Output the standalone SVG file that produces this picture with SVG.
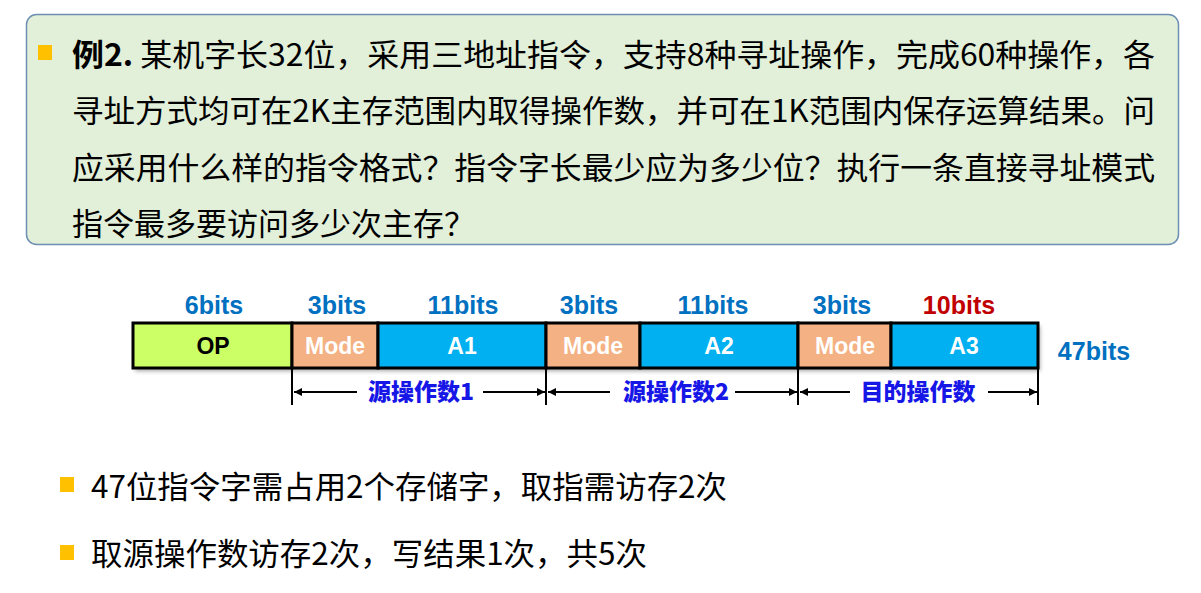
<svg xmlns="http://www.w3.org/2000/svg" width="1201" height="593" viewBox="0 0 1201 593">
<defs>
<style>
.cn{font-family:"Noto Sans CJK SC","Microsoft YaHei",sans-serif;font-size:31px;fill:#000}
.bits{font-family:"Liberation Sans",Arial,sans-serif;font-weight:bold;font-size:25px;fill:#0070C0;text-anchor:middle}
.fld{font-family:"Liberation Sans",Arial,sans-serif;font-weight:bold;font-size:23px;fill:#fff;text-anchor:middle}
.lab{font-family:"Noto Sans CJK SC",sans-serif;font-weight:900;font-size:23px;fill:#1616E6;text-anchor:middle}
.cell{stroke:#000;stroke-width:3}
.ln{stroke:#000;stroke-width:2;fill:none}
.bul{fill:#FFC000}
</style>
<marker id="ah" viewBox="0 0 10 10" refX="10" refY="5" markerWidth="10" markerHeight="8" orient="auto-start-reverse" markerUnits="userSpaceOnUse">
<path d="M0,0 L10,5 L0,10 z" fill="#000"/>
</marker>
<filter id="sh" x="-5%" y="-20%" width="110%" height="150%">
<feDropShadow dx="2" dy="3" stdDeviation="2" flood-color="#000" flood-opacity="0.35"/>
</filter>
</defs>

<g id="question">
<rect x="26.5" y="14.5" width="1152" height="230" rx="10" fill="#E2EFD9" stroke="#6E8FB3" stroke-width="1.5"/>
<rect class="bul" x="38" y="45" width="14" height="15"/>
<text class="cn" x="72" y="66" textLength="1083" lengthAdjust="spacingAndGlyphs"><tspan font-weight="bold">例2.</tspan> 某机字长32位，采用三地址指令，支持8种寻址操作，完成60种操作，各</text>
<text class="cn" x="72" y="122" textLength="1083" lengthAdjust="spacingAndGlyphs">寻址方式均可在2K主存范围内取得操作数，并可在1K范围内保存运算结果。问</text>
<text class="cn" x="72" y="179" textLength="1083" lengthAdjust="spacingAndGlyphs">应采用什么样的指令格式？指令字长最少应为多少位？执行一条直接寻址模式</text>
<text class="cn" x="72" y="235">指令最多要访问多少次主存？</text>
</g>

<g id="format">
<rect x="133" y="323" width="905" height="45" fill="#fff" filter="url(#sh)"/>
<g id="op"><rect class="cell" x="133" y="323" width="159" height="45" fill="#CCFF66"/><text class="fld" x="213" y="354" style="fill:#000">OP</text></g>
<g id="mode1"><rect class="cell" x="292" y="323" width="86" height="45" fill="#F4B183"/><text class="fld" x="335" y="354">Mode</text></g>
<g id="a1"><rect class="cell" x="378" y="323" width="168" height="45" fill="#00B0F0"/><text class="fld" x="462" y="354">A1</text></g>
<g id="mode2"><rect class="cell" x="546" y="323" width="94" height="45" fill="#F4B183"/><text class="fld" x="593" y="354">Mode</text></g>
<g id="a2"><rect class="cell" x="640" y="323" width="158" height="45" fill="#00B0F0"/><text class="fld" x="719" y="354">A2</text></g>
<g id="mode3"><rect class="cell" x="798" y="323" width="93" height="45" fill="#F4B183"/><text class="fld" x="845" y="354">Mode</text></g>
<g id="a3"><rect class="cell" x="891" y="323" width="147" height="45" fill="#00B0F0"/><text class="fld" x="964" y="354">A3</text></g>
</g>

<g id="bitlabels">
<text class="bits" x="214" y="314">6bits</text>
<text class="bits" x="337" y="314">3bits</text>
<text class="bits" x="463" y="314">11bits</text>
<text class="bits" x="589" y="314">3bits</text>
<text class="bits" x="713" y="314">11bits</text>
<text class="bits" x="842" y="314">3bits</text>
<text class="bits" x="959" y="314" style="fill:#C00000">10bits</text>
<text class="bits" x="1094" y="360">47bits</text>
</g>

<g id="connectors">
<line class="ln" x1="292" y1="368" x2="292" y2="405" stroke-width="3"/>
<line class="ln" x1="546" y1="368" x2="546" y2="405" stroke-width="3"/>
<line class="ln" x1="798" y1="368" x2="798" y2="405" stroke-width="3"/>
<line class="ln" x1="1038" y1="368" x2="1038" y2="405" stroke-width="3"/>
<line class="ln" x1="357" y1="392" x2="294" y2="392" marker-end="url(#ah)"/>
<line class="ln" x1="483" y1="392" x2="545" y2="392" marker-end="url(#ah)"/>
<line class="ln" x1="610" y1="392" x2="548" y2="392" marker-end="url(#ah)"/>
<line class="ln" x1="735" y1="392" x2="797" y2="392" marker-end="url(#ah)"/>
<line class="ln" x1="850" y1="392" x2="800" y2="392" marker-end="url(#ah)"/>
<line class="ln" x1="988" y1="392" x2="1037" y2="392" marker-end="url(#ah)"/>
</g>

<g id="spanlabels">
<text class="lab" x="421" y="400">源操作数1</text>
<text class="lab" x="676" y="400">源操作数2</text>
<text class="lab" x="918" y="400">目的操作数</text>
</g>

<g id="answers">
<rect class="bul" x="60" y="477" width="14" height="15"/>
<text class="cn" x="91" y="498" textLength="636" lengthAdjust="spacingAndGlyphs">47位指令字需占用2个存储字，取指需访存2次</text>
<rect class="bul" x="60" y="545" width="14" height="15"/>
<text class="cn" x="91" y="565" textLength="556" lengthAdjust="spacingAndGlyphs">取源操作数访存2次，写结果1次，共5次</text>
</g>
</svg>
